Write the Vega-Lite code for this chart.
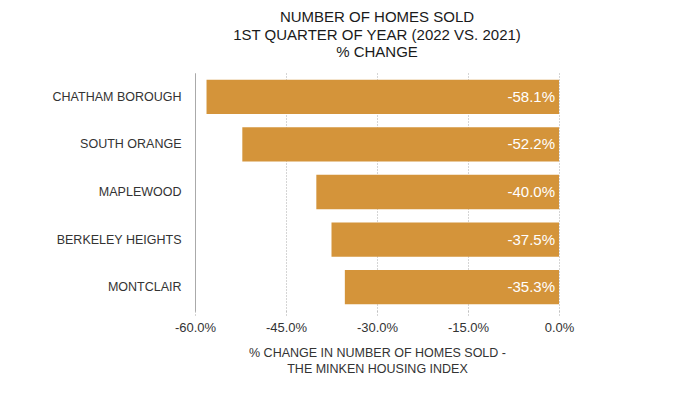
{
  "$schema": "https://vega.github.io/schema/vega-lite/v6.json",
  "width": 364,
  "height": 238,
  "autosize": {"type": "none"},
  "padding": {"left": 195, "top": 73, "right": 117, "bottom": 85},
  "background": "white",
  "title": {
    "text": ["NUMBER OF HOMES SOLD", "1ST QUARTER OF YEAR (2022 VS. 2021)", "% CHANGE"],
    "font": "Liberation Sans",
    "fontSize": 15,
    "fontWeight": "normal",
    "color": "#1a1a1a",
    "lineHeight": 17.5,
    "anchor": "middle",
    "offset": 13
  },
  "config": {
    "view": {"stroke": null},
    "font": "Liberation Sans"
  },
  "data": {
    "values": [
      {"town": "CHATHAM BOROUGH", "change": -58.1, "label": "-58.1%"},
      {"town": "SOUTH ORANGE", "change": -52.2, "label": "-52.2%"},
      {"town": "MAPLEWOOD", "change": -40.0, "label": "-40.0%"},
      {"town": "BERKELEY HEIGHTS", "change": -37.5, "label": "-37.5%"},
      {"town": "MONTCLAIR", "change": -35.3, "label": "-35.3%"}
    ]
  },
  "encoding": {
    "y": {
      "field": "town",
      "type": "nominal",
      "sort": null,
      "scale": {"paddingInner": 0.28, "paddingOuter": 0.14},
      "axis": {
        "title": null,
        "ticks": false,
        "labelPadding": 14,
        "labelFontSize": 12.5,
        "labelColor": "#333333",
        "domainColor": "#aaaaaa",
        "domainWidth": 1
      }
    }
  },
  "layer": [
    {
      "mark": {"type": "bar", "color": "#D4943A"},
      "encoding": {
        "x": {
          "field": "change",
          "type": "quantitative",
          "scale": {"domain": [-60, 0], "nice": false},
          "axis": {
            "values": [-60, -45, -30, -15, 0],
            "labelExpr": "replace(format(datum.value, '.1f'), '\u2212', '-') + '%'",
            "labelFlush": false,
            "title": ["% CHANGE IN NUMBER OF HOMES SOLD -", "THE MINKEN HOUSING INDEX"],
            "titleFontSize": 12.5,
            "titleFontWeight": "normal",
            "titleColor": "#333333",
            "titlePadding": 12,
            "titleLineHeight": 16,
            "labelFontSize": 13,
            "labelColor": "#333333",
            "labelPadding": 5,
            "domain": false,
            "grid": true,
            "gridColor": "#aaaaaa",
            "gridDash": [1, 2],
            "tickColor": "#aaaaaa",
            "tickDash": [1, 2],
            "tickSize": 5
          }
        }
      }
    },
    {
      "mark": {"type": "text", "align": "right", "baseline": "middle", "dx": -4, "color": "white", "fontSize": 15},
      "encoding": {
        "x": {"datum": 0, "type": "quantitative"},
        "text": {"field": "label", "type": "nominal"}
      }
    }
  ]
}
